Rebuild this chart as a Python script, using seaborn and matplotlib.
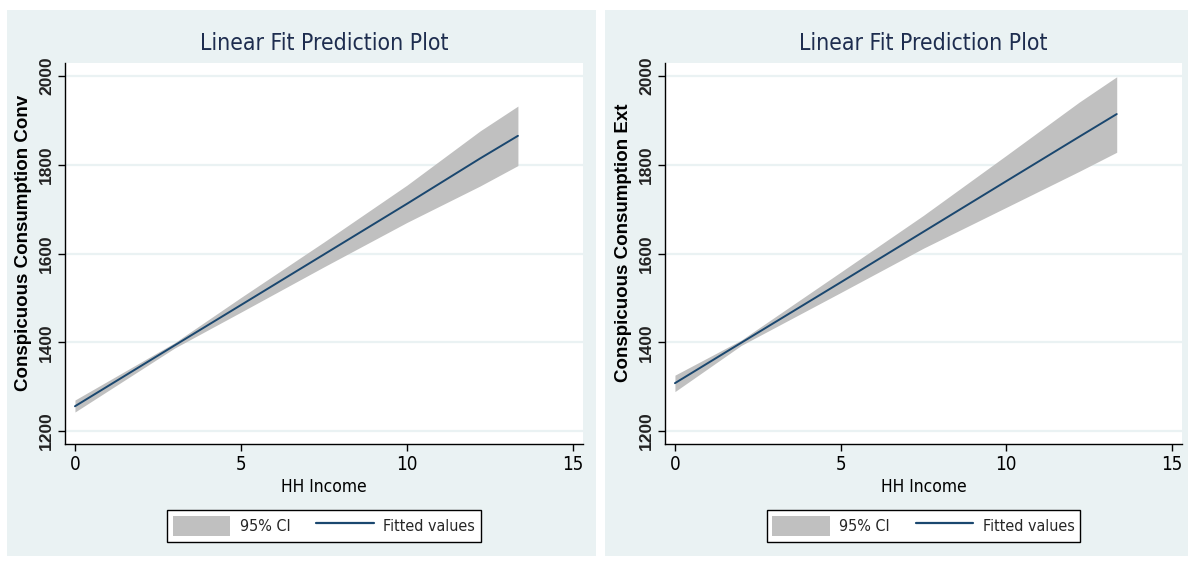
import numpy as np
import pandas as pd
import matplotlib
matplotlib.use("Agg")
import matplotlib.pyplot as plt
import seaborn as sns
from matplotlib import font_manager
from matplotlib.font_manager import FontProperties
from matplotlib.patches import Rectangle, Patch
from matplotlib.lines import Line2D

sns.set_style("white")

# fitted values and 95% CI
income_conv = [0, 3, 5, 7.5, 10, 12.2, 13.34]
fit_conv = [1256, 1393, 1484, 1598, 1712, 1814, 1865]
lo_conv = [1243, 1387, 1468, 1570, 1670, 1752, 1798]
hi_conv = [1270, 1399, 1501, 1626, 1754, 1876, 1932]

income_ext = [0, 2, 5, 7.5, 10, 12.2, 13.33]
fit_ext = [1308, 1399, 1535, 1649, 1763, 1863, 1914]
lo_ext = [1289, 1393, 1512, 1612, 1704, 1785, 1828]
hi_ext = [1326, 1405, 1558, 1686, 1821, 1941, 1998]

y_ticks = [1200, 1400, 1600, 1800, 2000]
x_ticks = [0, 5, 10, 15]

panels = [
    ("Conspicuous Consumption Conv", income_conv, fit_conv, lo_conv, hi_conv),
    ("Conspicuous Consumption Ext", income_ext, fit_ext, lo_ext, hi_ext),
]

W, H = 1192, 562
BG = "#eaf2f3"
NAVY = "#1a476f"
GRAY = "#c0c0c0"


# look for a narrow face (Stata uses a condensed Helvetica-like font)
def narrow_file():
    files = [f.fname for f in font_manager.fontManager.ttflist]
    for key in ["LiberationSansNarrow-Regular", "DejaVuSansCondensed.ttf"]:
        for f in files:
            if key in f:
                return f
    for f in files:
        if ("Condensed" in f or "Narrow" in f) and "Bold" not in f and "Oblique" not in f \
                and "Italic" not in f and "Mono" not in f and "Serif" not in f:
            return f
    return None


NF = narrow_file()


def nprop(size):
    if NF:
        return FontProperties(fname=NF, size=size)
    return FontProperties(family="Liberation Sans", size=size, stretch="condensed")


def box(x0, y0, x1, y1):
    return [x0 / W, 1 - y1 / H, (x1 - x0) / W, (y1 - y0) / H]


fig = plt.figure(figsize=(W / 100, H / 100), dpi=100)
fig.patch.set_facecolor("white")

panel_px = [(7, 10, 596, 556), (605, 10, 1188, 556)]
axes_px = [(65, 63, 583, 444), (665, 63, 1182, 444)]

for (ylab, xs, fit, lo, hi), pbox, abox in zip(panels, panel_px, axes_px):
    b = box(*pbox)
    fig.patches.append(Rectangle((b[0], b[1]), b[2], b[3], transform=fig.transFigure,
                                 facecolor=BG, edgecolor="none", zorder=-5))
    ax = fig.add_axes(box(*abox))
    ax.set_zorder(1)
    ax.set_facecolor("white")

    df = pd.DataFrame({"income": xs, "fit": fit, "lo": lo, "hi": hi})
    for yv in y_ticks:
        ax.axhline(yv, color=BG, lw=1.6, zorder=0)
    ax.fill_between(df["income"], df["lo"], df["hi"], color=GRAY, lw=0, zorder=1)
    sns.lineplot(data=df, x="income", y="fit", color=NAVY, lw=1.4, ax=ax, zorder=2)

    ax.set_xlim(-0.3, 15.3)
    ax.set_ylim(1171, 2029)
    ax.set_xticks(x_ticks)
    ax.set_yticks(y_ticks)
    for s in ["top", "right"]:
        ax.spines[s].set_visible(False)
    for s in ["left", "bottom"]:
        ax.spines[s].set_color("black")
        ax.spines[s].set_linewidth(1.0)
    ax.tick_params(axis="both", direction="out", length=5, width=1, color="black",
                   bottom=True, left=True, pad=3)
    ax.set_xticklabels([str(t) for t in x_ticks], fontproperties=nprop(13.5), color="black")
    ax.set_yticklabels([str(t) for t in y_ticks], rotation=90, va="center",
                       fontproperties=FontProperties(family="Liberation Sans", size=12.5,
                                                     weight="bold"),
                       color="#222222")
    ax.set_xlabel("HH Income", fontproperties=nprop(12.5), color="black", labelpad=3)
    ax.set_ylabel(ylab, fontproperties=FontProperties(family="Liberation Sans", size=13.5,
                                                      weight="bold"),
                  color="black")
    ax.yaxis.set_label_coords(-0.064, 0.528)
    ax.set_title("Linear Fit Prediction Plot", fontproperties=nprop(16.5),
                 color="#1e2d4f", pad=9)

    handles = [Patch(facecolor=GRAY, edgecolor="none"),
               Line2D([], [], color=NAVY, lw=1.6)]
    leg = ax.legend(handles, ["95% CI", "Fitted values"], ncol=2, loc="center",
                    bbox_to_anchor=(0.5, -0.215), frameon=True, fancybox=False,
                    edgecolor="black", facecolor="white", framealpha=1,
                    prop=nprop(11.5), handlelength=3.6,
                    handleheight=1.6, columnspacing=1.6, borderpad=0.35,
                    handletextpad=0.6, borderaxespad=0)
    leg.get_frame().set_linewidth(1.0)

fig.savefig("out.png", dpi=100, facecolor="white")
